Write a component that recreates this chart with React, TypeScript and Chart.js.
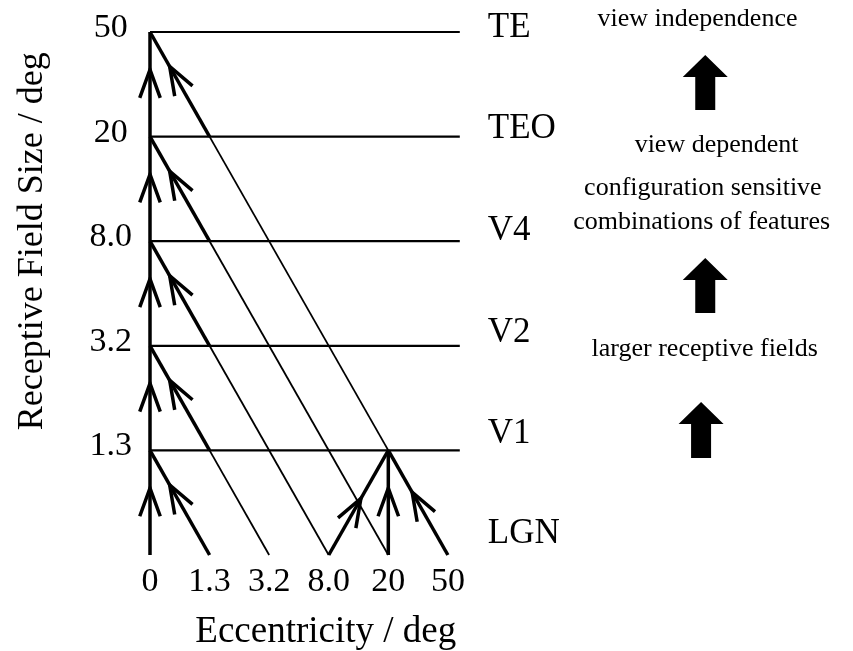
import { useEffect, useRef } from "react";
import { Chart, registerables } from "chart.js";

Chart.register(...registerables);

// ---- data -------------------------------------------------------------
const eccentricityLabels = ["0", "1.3", "3.2", "8.0", "20", "50"]; // x ticks at 0..5
const fieldSizeLabels = ["1.3", "3.2", "8.0", "20", "50"]; // y ticks at levels 1..5
const areaNames = ["LGN", "V1", "V2", "V4", "TEO", "TE"]; // levels 0..5
const areaLabelY = [0.11, 1.07, 2.04, 3.01, 3.99, 4.95];
const areaLabelX = 5.67;
const levelLineEnd = 5.2;
// where the boundary leaving each level (1..5) ends
const diagonalEndX = [1, 2, 3, 4, 4];
const diagonalEndY = [0, 0, 0, 0, 1];
const peakX = 4;
const peakY = 1;
const peakSources = [3, 4, 5];
const verticalArrowT = 0.64;
const diagonalArrowT = 0.67;
const peakArrowT = [0.54, 0.64, 0.6];

const noteTexts = [
  "view independence",
  "view dependent",
  "configuration sensitive",
  "combinations of features",
  "larger receptive fields",
];
const noteX = [9.19, 9.51, 9.28, 9.26, 9.31];
const noteY = [5.057, 3.853, 3.442, 3.117, 1.902];
const blockArrowX = [9.32, 9.32, 9.25];
const blockArrowFrom = [4.254, 2.314, 0.927];
const blockArrowTo = [4.78, 2.839, 1.463];

const yTitle = "Receptive Field Size / deg";
const xTitle = "Eccentricity / deg";

const SERIF = "'Liberation Serif', 'Times New Roman', serif";

type P = { x: number; y: number };

function seg(a: P, b: P, w: number) {
  return {
    data: [a, b],
    showLine: true,
    borderColor: "#000",
    backgroundColor: "#000",
    borderWidth: w,
    pointRadius: 0,
    pointHoverRadius: 0,
    clip: false as any,
    fill: false,
    tension: 0,
  };
}

function buildDatasets() {
  const ds: any[] = [];
  ds.push(seg({ x: 0, y: 0 }, { x: 0, y: 5 }, 3.5));
  for (let k = 1; k <= 5; k++) {
    ds.push(seg({ x: 0, y: k }, { x: levelLineEnd, y: k }, 2.2));
  }
  for (let k = 1; k <= 5; k++) {
    ds.push(seg({ x: 0, y: k }, { x: 1, y: k - 1 }, 3.5));
    const ex = diagonalEndX[k - 1];
    const ey = diagonalEndY[k - 1];
    if (!(ex === 1 && ey === k - 1)) {
      ds.push(seg({ x: 1, y: k - 1 }, { x: ex, y: ey }, 1.8));
    }
  }
  for (const s of peakSources) {
    ds.push(seg({ x: s, y: 0 }, { x: peakX, y: peakY }, 3.5));
  }
  return ds;
}

function buildArrowHeads() {
  const a: { from: P; to: P; t: number }[] = [];
  for (let k = 1; k <= 5; k++) {
    a.push({ from: { x: 0, y: k - 1 }, to: { x: 0, y: k }, t: verticalArrowT });
    a.push({ from: { x: 1, y: k - 1 }, to: { x: 0, y: k }, t: diagonalArrowT });
  }
  peakSources.forEach((s, i) =>
    a.push({ from: { x: s, y: 0 }, to: { x: peakX, y: peakY }, t: peakArrowT[i] })
  );
  return a;
}

const overlay = {
  id: "overlay",
  afterDatasetsDraw(chart: any) {
    const { ctx } = chart;
    const xs = chart.scales.x;
    const ys = chart.scales.y;
    ctx.save();
    ctx.strokeStyle = "#000";
    ctx.lineWidth = 3.5;
    ctx.lineCap = "butt";
    ctx.lineJoin = "miter";
    const L = 30;
    const ang = (20 * Math.PI) / 180;
    for (const h of buildArrowHeads()) {
      const x0 = xs.getPixelForValue(h.from.x);
      const y0 = ys.getPixelForValue(h.from.y);
      const x1 = xs.getPixelForValue(h.to.x);
      const y1 = ys.getPixelForValue(h.to.y);
      const dx = x1 - x0;
      const dy = y1 - y0;
      const len = Math.hypot(dx, dy);
      const ux = dx / len;
      const uy = dy / len;
      const tx = x0 + dx * h.t;
      const ty = y0 + dy * h.t;
      const arm = (s: number) => {
        const c = Math.cos(s * ang);
        const sn = Math.sin(s * ang);
        const rx = ux * c - uy * sn;
        const ry = ux * sn + uy * c;
        return [tx - rx * L, ty - ry * L];
      };
      const [ax, ay] = arm(1);
      const [bx, by] = arm(-1);
      ctx.beginPath();
      ctx.moveTo(ax, ay);
      ctx.lineTo(tx, ty);
      ctx.lineTo(bx, by);
      ctx.stroke();
    }
    ctx.restore();
  },
  afterDraw(chart: any) {
    const { ctx, chartArea } = chart;
    const xs = chart.scales.x;
    const ys = chart.scales.y;
    ctx.save();
    ctx.fillStyle = "#000";
    ctx.textBaseline = "alphabetic";

    // area labels
    ctx.font = `35px ${SERIF}`;
    ctx.textAlign = "left";
    areaNames.forEach((n, i) => {
      ctx.fillText(n, xs.getPixelForValue(areaLabelX), ys.getPixelForValue(areaLabelY[i]));
    });

    // axis titles
    ctx.font = `37px ${SERIF}`;
    ctx.textAlign = "center";
    ctx.fillText(xTitle, xs.getPixelForValue(2.95), chartArea.bottom + 87);
    ctx.font = `36px ${SERIF}`;
    ctx.save();
    ctx.translate(chartArea.left - 108, ys.getPixelForValue(3.0));
    ctx.rotate(-Math.PI / 2);
    ctx.fillText(yTitle, 0, 0);
    ctx.restore();

    // right-hand notes
    ctx.font = `26px ${SERIF}`;
    noteTexts.forEach((t, i) => {
      ctx.fillText(t, xs.getPixelForValue(noteX[i]), ys.getPixelForValue(noteY[i]));
    });

    // block arrows
    blockArrowX.forEach((bx, i) => {
      const cx = xs.getPixelForValue(bx);
      const tip = ys.getPixelForValue(blockArrowTo[i]);
      const base = ys.getPixelForValue(blockArrowFrom[i]);
      const headH = 22;
      const headW = 22.5;
      const shaftW = 10;
      ctx.beginPath();
      ctx.moveTo(cx, tip);
      ctx.lineTo(cx + headW, tip + headH);
      ctx.lineTo(cx + shaftW, tip + headH);
      ctx.lineTo(cx + shaftW, base);
      ctx.lineTo(cx - shaftW, base);
      ctx.lineTo(cx - shaftW, tip + headH);
      ctx.lineTo(cx - headW, tip + headH);
      ctx.closePath();
      ctx.fill();
    });
    ctx.restore();
  },
};

export default function App() {
  const ref = useRef<HTMLCanvasElement | null>(null);
  useEffect(() => {
    if (!ref.current) return;
    const chart = new Chart(ref.current, {
      type: "scatter",
      data: { datasets: buildDatasets() },
      options: {
        animation: false,
        responsive: false,
        devicePixelRatio: 1,
        events: [],
        layout: { padding: 0 },
        plugins: {
          legend: { display: false },
          tooltip: { enabled: false },
          title: { display: false },
        },
        scales: {
          x: {
            type: "linear",
            min: 0,
            max: 11.8,
            afterFit: (s: any) => {
              s.height = 96;
              s.paddingLeft = 0;
              s.paddingRight = 0;
            },
            afterBuildTicks: (s: any) => {
              s.ticks = eccentricityLabels.map((_, i) => ({ value: i }));
            },
            grid: { display: false, drawTicks: false },
            border: { display: false },
            ticks: {
              autoSkip: false,
              maxRotation: 0,
              minRotation: 0,
              padding: 7,
              color: "#000",
              font: { family: SERIF, size: 34 },
              callback: (v: any) => eccentricityLabels[Math.round(Number(v))] ?? "",
            },
          },
          y: {
            type: "linear",
            min: 0,
            max: 5.306,
            afterFit: (s: any) => {
              s.width = 150;
              s.paddingTop = 0;
              s.paddingBottom = 0;
            },
            afterBuildTicks: (s: any) => {
              s.ticks = fieldSizeLabels.map((_, i) => ({ value: i + 1 }));
            },
            grid: { display: false, drawTicks: false },
            border: { display: false },
            ticks: {
              autoSkip: false,
              crossAlign: "center",
              padding: 18,
              labelOffset: -4,
              color: "#000",
              font: { family: SERIF, size: 34 },
              callback: (v: any) => fieldSizeLabels[Math.round(Number(v)) - 1] ?? "",
            },
          },
        },
      } as any,
      plugins: [overlay],
    });
    return () => chart.destroy();
  }, []);
  return (
    <div style={{ position: "fixed", left: 0, top: 0, width: 853, height: 651, background: "#fff" }}>
      <canvas ref={ref} width={853} height={651} style={{ display: "block" }} />
    </div>
  );
}
